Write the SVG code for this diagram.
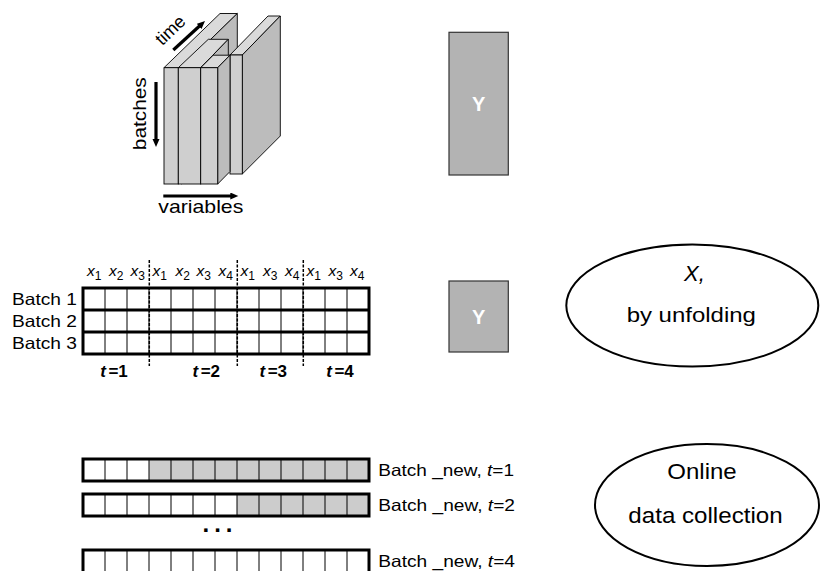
<svg xmlns="http://www.w3.org/2000/svg" width="820" height="571" viewBox="0 0 820 571">
<defs>
<style>
.t{font-family:"Liberation Sans",Arial,sans-serif;fill:#000}
.f{fill:#cfcfcf;stroke:#000;stroke-width:0.9}
.s{fill:#bcbcbc;stroke:#000;stroke-width:0.9}
.p{fill:#dadada;stroke:#000;stroke-width:0.9}
.arr{stroke:#000;stroke-width:3.2;fill:none}
.cell{stroke:#000;stroke-width:1}
.outer{fill:none;stroke:#000;stroke-width:3}
.dash{stroke:#000;stroke-width:1.5;stroke-dasharray:3 1.5}
.ybox{fill:#b3b3b3;stroke:#333;stroke-width:1.2}
.ylab{font-family:"Liberation Sans",Arial,sans-serif;font-weight:bold;font-size:20px;fill:#fff}
.ell{fill:#fff;stroke:#000;stroke-width:2}
.gray{fill:#cccccc}
.hx{font-family:"Liberation Sans",Arial,sans-serif;font-size:15.5px;font-style:italic}
.sub{font-style:normal;font-size:12px}
.tl{font-family:"Liberation Sans",Arial,sans-serif;font-size:17px;font-weight:bold}
</style>
<marker id="head" markerUnits="userSpaceOnUse" markerWidth="10" markerHeight="9" refX="2" refY="3.5" orient="auto">
<path d="M0,0 L8,3.5 L0,7 z" fill="#000"/>
</marker>
</defs>
<rect width="820" height="571" fill="#fff"/>

<g id="cube">
<polygon class="p" points="164,67.7 220,13.5 237.3,13.5 181.5,67.7"/>
<polygon class="s" points="237.3,13.5 237.3,130 181.5,184 181.5,67.7"/>
<polygon class="p" points="178.3,67.7 208.3,39.3 228.3,39.3 200.7,67.7"/>
<polygon class="s" points="228.3,39.3 228.3,155 200.7,184 200.7,67.7"/>
<polygon class="p" points="230,55 268,16 280.3,16 242.3,55"/>
<polygon class="s" points="242.3,55 280.3,16 280.3,136 242.3,174"/>
<rect class="f" x="230" y="55" width="12.3" height="119"/>
<polygon class="p" points="200.7,67.7 213.2,55.2 230,55.2 217.7,67.7"/>
<polygon class="s" points="217.7,67.7 230,55.2 230,171.5 217.7,184"/>
<rect class="f" x="164" y="67.7" width="14.3" height="116.3"/>
<rect class="f" x="178.3" y="67.7" width="22.4" height="116.3"/>
<rect class="f" x="200.7" y="67.7" width="17" height="116.3"/>
<text class="t" font-size="18" text-anchor="middle" transform="translate(174.5,34.5) rotate(-44)">time</text>
<text class="t" font-size="17.5" text-anchor="middle" textLength="73" lengthAdjust="spacingAndGlyphs" transform="translate(146,113.7) rotate(-90)">batches</text>
<text class="t" x="158.3" y="213.3" font-size="19" textLength="85" lengthAdjust="spacingAndGlyphs">variables</text>
</g>

<g id="connectors">
<line class="arr" x1="173.3" y1="50" x2="200.6" y2="25" marker-end="url(#head)"/>
<line class="arr" x1="156" y1="82" x2="156" y2="141" marker-end="url(#head)"/>
<line class="arr" x1="163.3" y1="196" x2="232.3" y2="196" marker-end="url(#head)"/>
</g>

<g id="y-top">
<rect class="ybox" x="449" y="32.3" width="59.3" height="142.7"/>
<text class="ylab" x="478.6" y="110.5" text-anchor="middle">Y</text>
</g>

<g id="unfolded-grid">
<rect x="83" y="288" width="286" height="66" fill="#fff"/>
<g class="cell">
<line x1="105" y1="288" x2="105" y2="354"/><line x1="127" y1="288" x2="127" y2="354"/>
<line x1="149" y1="288" x2="149" y2="354"/><line x1="171" y1="288" x2="171" y2="354"/>
<line x1="193" y1="288" x2="193" y2="354"/><line x1="215" y1="288" x2="215" y2="354"/>
<line x1="237" y1="288" x2="237" y2="354"/><line x1="259" y1="288" x2="259" y2="354"/>
<line x1="281" y1="288" x2="281" y2="354"/><line x1="303" y1="288" x2="303" y2="354"/>
<line x1="325" y1="288" x2="325" y2="354"/><line x1="347" y1="288" x2="347" y2="354"/>
</g>
<line x1="83" y1="310" x2="369" y2="310" stroke="#000" stroke-width="3"/>
<line x1="83" y1="332" x2="369" y2="332" stroke="#000" stroke-width="3"/>
<rect class="outer" x="83" y="288" width="286" height="66"/>
<line class="dash" x1="149.3" y1="260" x2="149.3" y2="366"/>
<line class="dash" x1="237.3" y1="260" x2="237.3" y2="366"/>
<line class="dash" x1="303.3" y1="260" x2="303.3" y2="366"/>
<g class="hx">
<text x="87" y="276">x<tspan class="sub" dy="4">1</tspan></text>
<text x="109" y="276">x<tspan class="sub" dy="4">2</tspan></text>
<text x="130.5" y="276">x<tspan class="sub" dy="4">3</tspan></text>
<text x="152.5" y="276">x<tspan class="sub" dy="4">1</tspan></text>
<text x="175.5" y="276">x<tspan class="sub" dy="4">2</tspan></text>
<text x="196.5" y="276">x<tspan class="sub" dy="4">3</tspan></text>
<text x="218.5" y="276">x<tspan class="sub" dy="4">4</tspan></text>
<text x="240.5" y="276">x<tspan class="sub" dy="4">1</tspan></text>
<text x="263" y="276">x<tspan class="sub" dy="4">3</tspan></text>
<text x="285" y="276">x<tspan class="sub" dy="4">4</tspan></text>
<text x="306.5" y="276">x<tspan class="sub" dy="4">1</tspan></text>
<text x="328.5" y="276">x<tspan class="sub" dy="4">3</tspan></text>
<text x="350" y="276">x<tspan class="sub" dy="4">4</tspan></text>
</g>
<text class="t" x="77" y="304.8" font-size="16.5" text-anchor="end" textLength="65" lengthAdjust="spacingAndGlyphs">Batch 1</text>
<text class="t" x="77" y="326.8" font-size="16.5" text-anchor="end" textLength="65" lengthAdjust="spacingAndGlyphs">Batch 2</text>
<text class="t" x="77" y="348.8" font-size="16.5" text-anchor="end" textLength="65" lengthAdjust="spacingAndGlyphs">Batch 3</text>
<text class="tl" x="114" y="377.3" text-anchor="middle"><tspan font-style="italic">t</tspan><tspan dx="2.5">=1</tspan></text>
<text class="tl" x="206.3" y="377.3" text-anchor="middle"><tspan font-style="italic">t</tspan><tspan dx="2.5">=2</tspan></text>
<text class="tl" x="273.3" y="377.3" text-anchor="middle"><tspan font-style="italic">t</tspan><tspan dx="2.5">=3</tspan></text>
<text class="tl" x="340" y="377.3" text-anchor="middle"><tspan font-style="italic">t</tspan><tspan dx="2.5">=4</tspan></text>
</g>

<g id="y-unfolded">
<rect class="ybox" x="449" y="281" width="59.3" height="71"/>
<text class="ylab" x="478.6" y="324.3" text-anchor="middle">Y</text>
</g>

<g id="ellipse-unfolding">
<ellipse class="ell" cx="692.3" cy="305.5" rx="126" ry="61"/>
<text class="t" x="694.5" y="281" font-size="22" font-style="italic" text-anchor="middle">X,</text>
<text class="t" x="691.3" y="322" font-size="21" text-anchor="middle" textLength="129.3" lengthAdjust="spacingAndGlyphs">by unfolding</text>
</g>

<g id="bar-t1">
<rect x="83" y="459" width="66" height="22" fill="#fff"/>
<rect class="gray" x="149" y="459" width="220" height="22"/>
<g class="cell">
<line x1="105" y1="459" x2="105" y2="481"/><line x1="127" y1="459" x2="127" y2="481"/>
<line x1="149" y1="459" x2="149" y2="481"/><line x1="171" y1="459" x2="171" y2="481"/>
<line x1="193" y1="459" x2="193" y2="481"/><line x1="215" y1="459" x2="215" y2="481"/>
<line x1="237" y1="459" x2="237" y2="481"/><line x1="259" y1="459" x2="259" y2="481"/>
<line x1="281" y1="459" x2="281" y2="481"/><line x1="303" y1="459" x2="303" y2="481"/>
<line x1="325" y1="459" x2="325" y2="481"/><line x1="347" y1="459" x2="347" y2="481"/>
</g>
<rect class="outer" x="83" y="459" width="286" height="22"/>
<text class="t" x="378.3" y="475.7" font-size="16.5" textLength="135.7" lengthAdjust="spacingAndGlyphs">Batch _new, <tspan font-style="italic">t</tspan>=1</text>
</g>

<g id="bar-t2">
<rect x="83" y="494" width="154" height="22" fill="#fff"/>
<rect class="gray" x="237" y="494" width="132" height="22"/>
<g class="cell">
<line x1="105" y1="494" x2="105" y2="516"/><line x1="127" y1="494" x2="127" y2="516"/>
<line x1="149" y1="494" x2="149" y2="516"/><line x1="171" y1="494" x2="171" y2="516"/>
<line x1="193" y1="494" x2="193" y2="516"/><line x1="215" y1="494" x2="215" y2="516"/>
<line x1="237" y1="494" x2="237" y2="516"/><line x1="259" y1="494" x2="259" y2="516"/>
<line x1="281" y1="494" x2="281" y2="516"/><line x1="303" y1="494" x2="303" y2="516"/>
<line x1="325" y1="494" x2="325" y2="516"/><line x1="347" y1="494" x2="347" y2="516"/>
</g>
<rect class="outer" x="83" y="494" width="286" height="22"/>
<text class="t" x="378.3" y="511" font-size="16.5" textLength="136.7" lengthAdjust="spacingAndGlyphs">Batch _new, <tspan font-style="italic">t</tspan>=2</text>
</g>

<g id="ellipsis">
<text class="t" x="202.5" y="531.7" font-size="24" font-weight="bold" letter-spacing="5">...</text>
</g>

<g id="bar-t4">
<rect x="83" y="550" width="286" height="23" fill="#fff"/>
<g class="cell">
<line x1="105" y1="550" x2="105" y2="573"/><line x1="127" y1="550" x2="127" y2="573"/>
<line x1="149" y1="550" x2="149" y2="573"/><line x1="171" y1="550" x2="171" y2="573"/>
<line x1="193" y1="550" x2="193" y2="573"/><line x1="215" y1="550" x2="215" y2="573"/>
<line x1="237" y1="550" x2="237" y2="573"/><line x1="259" y1="550" x2="259" y2="573"/>
<line x1="281" y1="550" x2="281" y2="573"/><line x1="303" y1="550" x2="303" y2="573"/>
<line x1="325" y1="550" x2="325" y2="573"/><line x1="347" y1="550" x2="347" y2="573"/>
</g>
<rect class="outer" x="83" y="550" width="286" height="23"/>
<text class="t" x="378.3" y="567.3" font-size="16.5" textLength="136.7" lengthAdjust="spacingAndGlyphs">Batch _new, <tspan font-style="italic">t</tspan>=4</text>
</g>

<g id="ellipse-online">
<ellipse class="ell" cx="707" cy="505" rx="112" ry="61"/>
<text class="t" x="702" y="479" font-size="22" text-anchor="middle" textLength="69.4" lengthAdjust="spacingAndGlyphs">Online</text>
<text class="t" x="705.5" y="522.7" font-size="22" text-anchor="middle" textLength="154.3" lengthAdjust="spacingAndGlyphs">data collection</text>
</g>
</svg>
